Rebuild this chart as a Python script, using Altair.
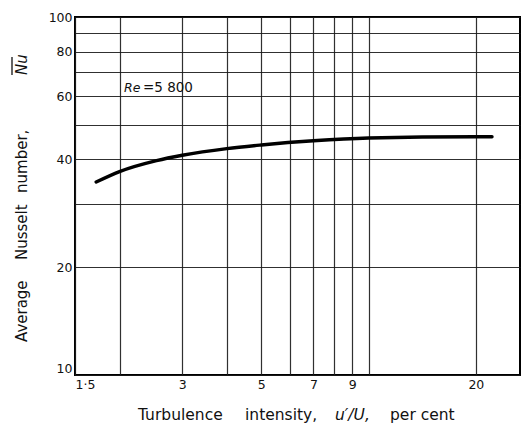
import altair as alt
import pandas as pd

# Turbulence intensity (per cent) and average Nusselt number along the curve
intensity = [1.72, 2.0, 2.54, 3.0, 4.0, 5.0, 7.0, 10.0, 20.0, 22.2]
nusselt = [34.6, 37.0, 39.7, 41.1, 42.9, 43.9, 45.1, 45.9, 46.3, 46.3]

# Grid lines and labelled ticks of the log-log paper
x_grid = [1.5, 2, 3, 4, 5, 6, 7, 8, 9, 10, 20]
x_tick_text = {1.5: "1·5", 3: "3", 5: "5", 7: "7", 9: "9", 20: "20"}
y_grid = [10, 20, 30, 40, 50, 60, 70, 80, 90, 100]
y_tick_text = [10, 20, 40, 60, 80, 100]

FONT = "DejaVu Sans"
NB = "\u00a0"


def label_expr(mapping):
    expr = "''"
    for v, t in mapping.items():
        expr = f"datum.value == {v} ? '{t}' : ({expr})"
    return expr


curve = pd.DataFrame({"intensity": intensity, "nusselt": nusselt})

x_scale = alt.Scale(type="log", domain=[1.5, 26.6], nice=False)
y_scale = alt.Scale(type="log", domain=[10, 100], nice=False)

line = alt.Chart(curve).mark_line(
    color="black", strokeWidth=3.4, interpolate="monotone", strokeCap="round"
).encode(
    x=alt.X(
        "intensity:Q",
        scale=x_scale,
        axis=alt.Axis(
            values=x_grid,
            labelExpr=label_expr(x_tick_text),
            labelAlign=alt.condition("datum.value == 1.5", alt.value("left"), alt.value("center")),
            title=None,
            grid=True,
            ticks=False,
            domain=False,
            labelPadding=3,
            labelFontSize=12.5,
            labelFont=FONT,
            labelColor="#111",
            labelFlush=False,
        ),
    ),
    y=alt.Y(
        "nusselt:Q",
        scale=y_scale,
        axis=alt.Axis(
            values=y_grid,
            labelExpr=label_expr({v: str(v) for v in y_tick_text}),
            labelBaseline=alt.condition("datum.value == 10", alt.value("bottom"), alt.value("middle")),
            title=None,
            grid=True,
            ticks=False,
            domain=False,
            labelPadding=3,
            labelFontSize=12.5,
            labelFont=FONT,
            labelColor="#111",
            labelFlush=False,
        ),
    ),
)


def text_piece(text, x, y, size=15, italic=False, angle=0, align="left"):
    opts = dict(
        text=text, font=FONT, fontSize=size, color="#111", align=align,
        baseline="alphabetic",
    )
    if italic:
        opts["fontStyle"] = "italic"
    if angle:
        opts["angle"] = angle
    return alt.Chart(pd.DataFrame({"k": [0]})).mark_text(**opts).encode(
        x=alt.value(x), y=alt.value(y)
    )


# Curve annotation
re_label = text_piece("Re", 49, 75, size=12.5, italic=True)
re_value = text_piece("=5" + NB + "800", 68, 75, size=13.5)

# Axis titles, word by word
x_title = [
    text_piece("Turbulence", 63, 403, size=15.5),
    text_piece("intensity,", 170, 403, size=15.5),
    text_piece("u\u2032/U,", 260, 403, size=15.5, italic=True),
    text_piece("per" + NB + "cent", 315, 403, size=15.5),
]

y_title = [
    text_piece("Average", -48, 325, angle=270),
    text_piece("Nusselt", -48, 243, angle=270),
    text_piece("number,", -48, 176, angle=270),
    text_piece("Nu", -48, 58, italic=True, angle=270),
]
overline = alt.Chart(pd.DataFrame({"k": [0]})).mark_rule(
    color="#111", strokeWidth=1.3
).encode(x=alt.value(-63), y=alt.value(40), y2=alt.value(58))

chart = alt.layer(
    line, re_label, re_value, *x_title, *y_title, overline,
).properties(
    width=445,
    height=358,
    autosize=alt.AutoSizeParams(type="none"),
    padding={"left": 75, "top": 17, "right": 5, "bottom": 54},
    background="white",
).configure_view(
    stroke="black", strokeWidth=2
).configure_axis(
    gridColor="#1a1a1a", gridWidth=1.2, gridOpacity=0.9
)

chart.save("out.html", embed_options={"renderer": "svg", "actions": False})
